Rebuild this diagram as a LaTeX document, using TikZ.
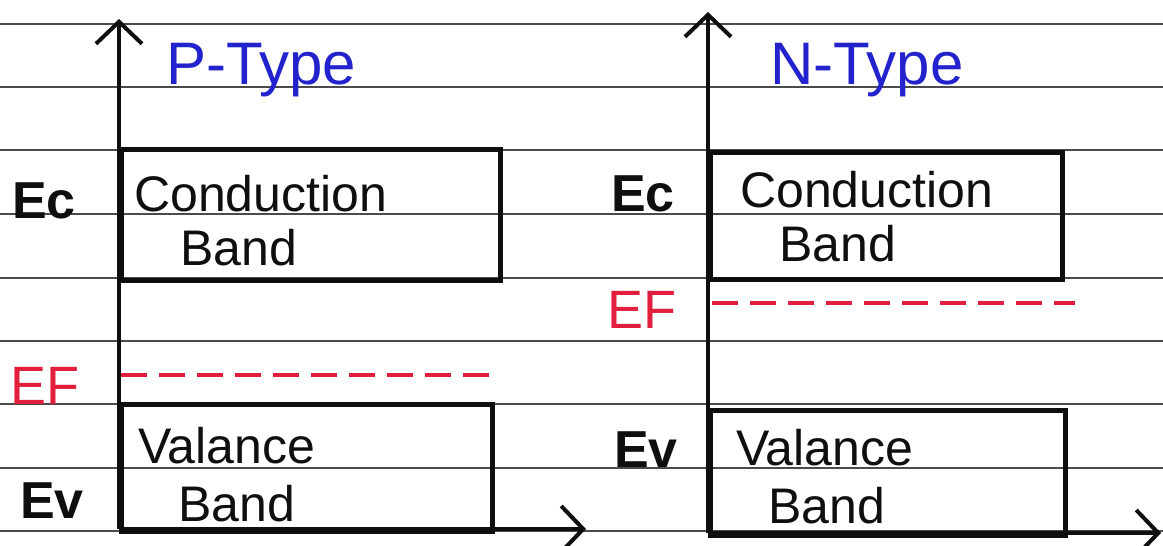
\documentclass[tikz,border=0pt]{standalone}
\usepackage{fontspec}
\setmainfont{Liberation Sans}
\usetikzlibrary{arrows.meta}
\definecolor{ruling}{RGB}{75,75,75}
\definecolor{penblue}{RGB}{35,35,205}
\definecolor{penred}{RGB}{225,30,60}
\definecolor{ink}{RGB}{15,15,15}
\tikzset{
  ruleline/.style={ruling, line width=1.6pt},
  axis/.style={ink, line width=4pt, -{Straight Barb[length=22pt,width=46pt]}},
  band/.style={draw=ink, line width=5pt, inner sep=0pt, anchor=north west},
  fermi/.style={penred, line width=4pt, dash pattern=on 26pt off 12pt},
  bandtext/.style={ink, anchor=base west, inner sep=0pt, font=\fontsize{50}{60}\selectfont},
  level/.style={ink, anchor=base west, inner sep=0pt, font=\fontsize{52}{60}\selectfont\bfseries},
  fermilabel/.style={penred, anchor=base west, inner sep=0pt, font=\fontsize{54}{60}\selectfont},
  title/.style={penblue, anchor=base west, inner sep=0pt, font=\fontsize{60}{70}\selectfont},
}
\begin{document}
\begin{tikzpicture}[x=1pt,y=-1pt]
\useasboundingbox (0,0) rectangle (1163,546);
\fill[white] (0,0) rectangle (1163,546);

% ruled paper
\foreach \yy in {24,87,150,214,278,341,404,468,531}
  \draw[ruleline] (0,\yy) -- (1163,\yy);

% ---------- P-type ----------
\coordinate (po) at (119,529);
\coordinate (py) at (119,19);
\coordinate (px) at (586,529);
\node[band, minimum width=379pt, minimum height=131pt] (pcb) at (119,147) {};
\node[band, minimum width=371pt, minimum height=127pt] (pvb) at (119,402) {};
\draw[axis] (po) -- (py);
\draw[axis] (po) -- (px);
\coordinate (pfa) at (121,375);
\coordinate (pfb) at (493,375);
\draw[fermi] (pfa) -- (pfb);

\node[title] (ptitle) at (166,84) {P-Type};
\node[bandtext] (pc1) at (134,211) {Conduction};
\node[bandtext] (pc2) at (180,265) {Band};
\node[bandtext] (pv1) at (138,463) {Valance};
\node[bandtext] (pv2) at (178,521) {Band};
\node[level] (pec) at (12,218) {Ec};
\node[fermilabel] (pef) at (10,404) {EF};
\node[level] (pev) at (20,518) {Ev};

% ---------- N-type ----------
\coordinate (no) at (708,533);
\coordinate (ny) at (708,12);
\coordinate (nx) at (1161,533);
\node[band, minimum width=352pt, minimum height=127pt] (ncb) at (708,150) {};
\node[band, minimum width=355pt, minimum height=125pt] (nvb) at (708,408) {};
\draw[axis] (no) -- (ny);
\draw[axis] (no) -- (nx);
\coordinate (nfa) at (712,303);
\coordinate (nfb) at (1075,303);
\draw[fermi] (nfa) -- (nfb);

\node[title] (ntitle) at (770,84) {N-Type};
\node[bandtext] (nc1) at (740,207) {Conduction};
\node[bandtext] (nc2) at (779,261) {Band};
\node[bandtext] (nv1) at (736,465) {Valance};
\node[bandtext] (nv2) at (768,523) {Band};
\node[level] (nec) at (611,211) {Ec};
\node[fermilabel] (nef) at (607,328) {EF};
\node[level] (nev) at (614,467) {Ev};
\end{tikzpicture}
\end{document}
